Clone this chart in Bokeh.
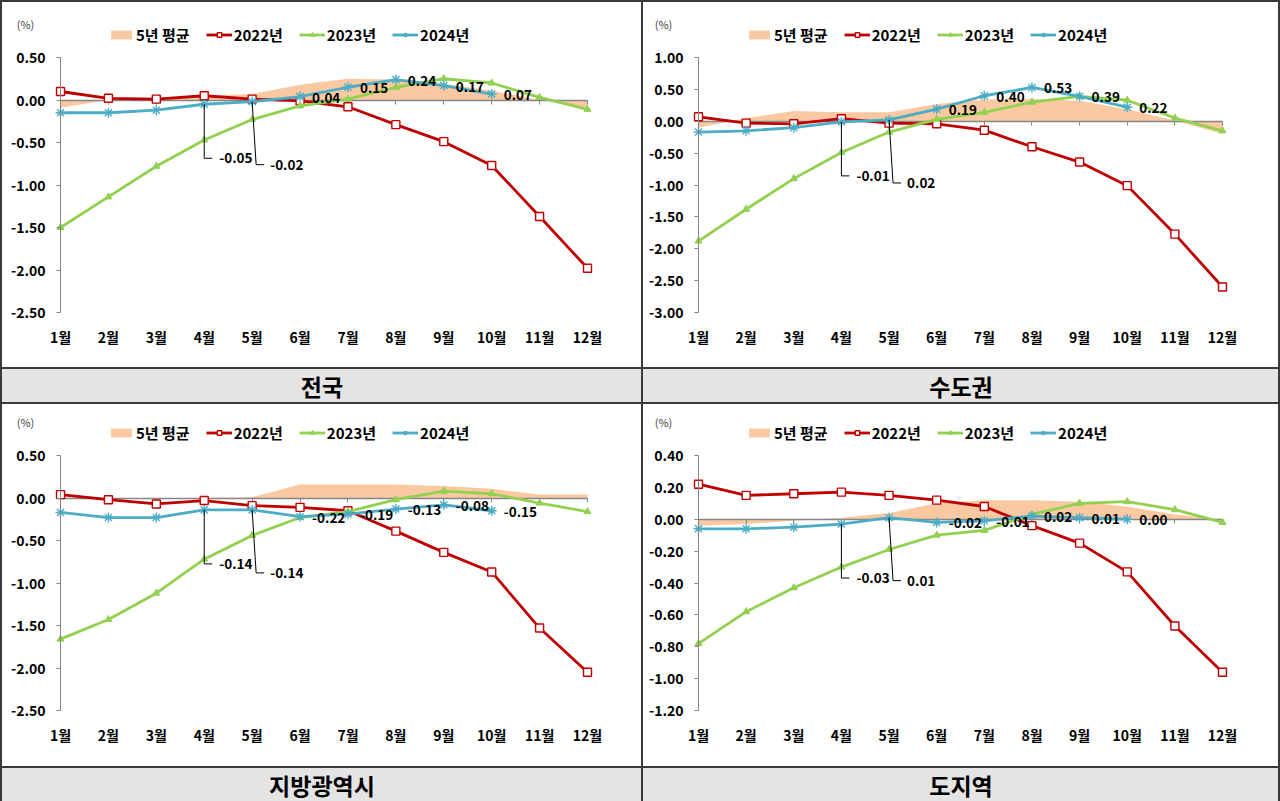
from bokeh.plotting import figure
from bokeh.models import (Range1d, LinearAxis, FixedTicker, NumeralTickFormatter,
                          Legend, LegendItem, Label)
from bokeh.layouts import row, column
from bokeh.core.properties import value
from bokeh.embed import file_html
from bokeh.resources import INLINE

FONT = "Noto Sans CJK KR"

# ---------------- data ----------------
months = ["1월", "2월", "3월", "4월", "5월", "6월", "7월", "8월", "9월", "10월", "11월", "12월"]
series_names = ["5년 평균", "2022년", "2023년", "2024년"]
region_titles = ["전국", "수도권", "지방광역시", "도지역"]

nat_avg = [-0.09, 0.00, 0.02, 0.05, 0.07, 0.18, 0.25, 0.24, 0.19, 0.11, 0.00, -0.09]
nat_2022 = [0.10, 0.02, 0.01, 0.05, 0.01, -0.01, -0.08, -0.29, -0.49, -0.77, -1.37, -1.98]
nat_2023 = [-1.50, -1.14, -0.78, -0.47, -0.23, -0.07, 0.01, 0.15, 0.25, 0.20, 0.03, -0.11]
nat_2024 = [-0.15, -0.15, -0.12, -0.05, -0.02, 0.04, 0.15, 0.24, 0.17, 0.07]
nat_ticks = [0.50, 0.00, -0.50, -1.00, -1.50, -2.00, -2.50]

cap_avg = [-0.10, 0.05, 0.16, 0.14, 0.14, 0.27, 0.34, 0.35, 0.32, 0.19, 0.01, -0.20]
cap_2022 = [0.07, -0.03, -0.04, 0.04, -0.03, -0.04, -0.14, -0.40, -0.64, -1.01, -1.77, -2.60]
cap_2023 = [-1.88, -1.38, -0.90, -0.49, -0.17, 0.03, 0.14, 0.30, 0.39, 0.33, 0.05, -0.15]
cap_2024 = [-0.17, -0.15, -0.10, -0.01, 0.02, 0.19, 0.40, 0.53, 0.39, 0.22]
cap_ticks = [1.00, 0.50, 0.00, -0.50, -1.00, -1.50, -2.00, -2.50, -3.00]

met_avg = [0.00, 0.00, 0.00, 0.00, 0.01, 0.16, 0.16, 0.16, 0.14, 0.11, 0.04, 0.04]
met_2022 = [0.04, -0.02, -0.07, -0.03, -0.09, -0.11, -0.15, -0.39, -0.64, -0.87, -1.53, -2.05]
met_2023 = [-1.66, -1.43, -1.12, -0.72, -0.44, -0.23, -0.16, -0.02, 0.08, 0.05, -0.06, -0.16]
met_2024 = [-0.17, -0.23, -0.23, -0.14, -0.14, -0.22, -0.19, -0.13, -0.08, -0.15]
met_ticks = [0.50, 0.00, -0.50, -1.00, -1.50, -2.00, -2.50]

prov_avg = [-0.04, -0.03, -0.01, 0.01, 0.04, 0.10, 0.12, 0.12, 0.11, 0.08, 0.03, 0.00]
prov_2022 = [0.22, 0.15, 0.16, 0.17, 0.15, 0.12, 0.08, -0.04, -0.15, -0.33, -0.67, -0.96]
prov_2023 = [-0.78, -0.58, -0.43, -0.30, -0.19, -0.10, -0.07, 0.03, 0.10, 0.11, 0.06, -0.02]
prov_2024 = [-0.06, -0.06, -0.05, -0.03, 0.01, -0.02, -0.01, 0.02, 0.01, 0.00]
prov_ticks = [0.40, 0.20, 0.00, -0.20, -0.40, -0.60, -0.80, -1.00, -1.20]

# ---------------- styles ----------------
PEACH = "#fbc9a1"
RED = "#c00000"
GREEN = "#92d050"
BLUE = "#4bacc6"
AXIS = "#868686"
BAND = "#e4e4e4"
BORDER = "#3a3a3a"
PAD_BOTTOM = 12


def make_chart(avg, y22, y23, y24, ticks, width, height, x1_px, x12_px, top_px, bottom_border):
    y_min, y_max = min(ticks), max(ticks)
    n = len(months)
    ppx = (x12_px - x1_px) / (n - 1)
    x_lo = 1 - x1_px / ppx
    x_hi = x_lo + width / ppx
    data_h = height - bottom_border - top_px
    ppy = data_h / (y_max - y_min)
    y_hi = y_max + top_px / ppy
    y_lo = y_min - PAD_BOTTOM / ppy
    fb = bottom_border - PAD_BOTTOM
    fh = height - fb

    p = figure(width=width, height=height,
               x_range=Range1d(x_lo, x_hi), y_range=Range1d(y_lo, y_hi),
               output_backend="svg", toolbar_location=None, tools="",
               x_axis_location=None, y_axis_location=None,
               min_border_left=0, min_border_right=0,
               min_border_top=0, min_border_bottom=fb,
               outline_line_color=None, background_fill_color="white",
               border_fill_color="white",
               styles={"background-color": "white"})
    p.grid.visible = False

    x = [i + 1 for i in range(n)]
    x24 = x[:len(y24)]

    r_avg = p.varea(x=x, y1=0, y2=avg, fill_color=PEACH, fill_alpha=1.0, level="image")

    r22l = p.line(x, y22, line_color=RED, line_width=2.8)
    r22m = p.scatter(x, y22, marker="square", size=8, fill_color="white",
                     line_color=RED, line_width=1.4)
    r23l = p.line(x, y23, line_color=GREEN, line_width=2.8)
    r23m = p.scatter(x, y23, marker="triangle", size=7, fill_color=GREEN,
                     line_color=GREEN)
    r24l = p.line(x24, y24, line_color=BLUE, line_width=2.8)
    r24m = p.scatter(x24, y24, marker="asterisk", size=10, line_color=BLUE,
                     line_width=1.4)

    # value axis, crossing at the first month
    ya = LinearAxis(fixed_location=1, bounds=(y_min, y_max),
                    ticker=FixedTicker(ticks=ticks),
                    formatter=NumeralTickFormatter(format="0.00"),
                    axis_line_color=AXIS, axis_line_width=1,
                    major_tick_line_color=AXIS, major_tick_out=4, major_tick_in=0,
                    minor_tick_out=0, minor_tick_in=0,
                    major_label_standoff=11,
                    major_label_text_font=FONT, major_label_text_font_style="bold",
                    major_label_text_font_size="14px", major_label_text_color="black")
    p.add_layout(ya, "left")

    # month labels at the bottom
    xa = LinearAxis(ticker=FixedTicker(ticks=x),
                    major_label_overrides={xi: m for xi, m in zip(x, months)},
                    axis_line_color=None, major_tick_line_color=None,
                    minor_tick_line_color=None, major_tick_out=0, major_tick_in=0,
                    minor_tick_out=0, minor_tick_in=0,
                    major_label_standoff=2,
                    major_label_text_font=FONT, major_label_text_font_style="bold",
                    major_label_text_font_size="14px", major_label_text_color="black")
    p.add_layout(xa, "below")

    # category axis line crossing at 0
    za = LinearAxis(fixed_location=0, bounds=(1, 12), ticker=FixedTicker(ticks=x),
                    major_label_overrides={xi: "" for xi in x},
                    axis_line_color=AXIS, axis_line_width=1.5,
                    major_tick_line_color=AXIS, major_tick_out=4, major_tick_in=0,
                    minor_tick_out=0, minor_tick_in=0, level="underlay")
    p.add_layout(za, "below")

    # data labels (2024), months 6..10 to the right of the point
    xr = x24[5:]
    yr = y24[5:]
    p.text(x=xr, y=yr, text=[f"{v:.2f}" for v in yr], x_offset=12, y_offset=1,
           text_align="left", text_baseline="middle", text_font=value(FONT),
           text_font_style="bold", text_font_size="13.5px", text_color="black")

    # callout labels for months 4 and 5
    x4, v4 = x24[3], y24[3]
    x5, v5 = x24[4], y24[4]
    d4, d5 = 54, 63
    xs = [[x4, x4, x4 + 8 / ppx],
          [x5, x5 + 4 / ppx, x5 + 12 / ppx]]
    ys = [[v4, v4 - d4 / ppy, v4 - d4 / ppy],
          [v5, v5 - d5 / ppy, v5 - d5 / ppy]]
    p.multi_line(xs=xs, ys=ys, line_color="black", line_width=1)
    p.text(x=[x4], y=[v4], text=[f"{v4:.2f}"], x_offset=15, y_offset=d4,
           text_align="left", text_baseline="middle", text_font=value(FONT),
           text_font_style="bold", text_font_size="13.5px", text_color="black")
    p.text(x=[x5], y=[v5], text=[f"{v5:.2f}"], x_offset=18, y_offset=d5,
           text_align="left", text_baseline="middle", text_font=value(FONT),
           text_font_style="bold", text_font_size="13.5px", text_color="black")

    # legend
    items = [LegendItem(label=series_names[0], renderers=[r_avg]),
             LegendItem(label=series_names[1], renderers=[r22l, r22m]),
             LegendItem(label=series_names[2], renderers=[r23l, r23m]),
             LegendItem(label=series_names[3], renderers=[r24l, r24m])]
    leg = Legend(items=items, orientation="horizontal",
                 location=(x1_px + 48, fh - (top_px - 12)),
                 label_text_font=FONT, label_text_font_style="bold",
                 label_text_font_size="15px", label_text_color="black",
                 glyph_width=26, glyph_height=11, label_height=14,
                 label_standoff=2, spacing=16, padding=0, margin=0,
                 border_line_color=None, background_fill_alpha=0)
    p.add_layout(leg)

    # "(%)" unit text
    p.add_layout(Label(x=1, y=y_max, x_offset=-35, y_offset=34, text="(%)",
                       text_font=FONT, text_font_size="11px", text_color="#404040",
                       text_align="center", text_baseline="middle"))
    return p


def make_band(title, width, height):
    b = figure(width=width, height=height, x_range=Range1d(0, 1), y_range=Range1d(0, 1),
               output_backend="svg", toolbar_location=None, tools="",
               x_axis_location=None, y_axis_location=None, min_border=0,
               outline_line_color=None, background_fill_color=BAND,
               border_fill_color=BAND, styles={"background-color": BAND})
    b.grid.visible = False
    b.text(x=[0.5], y=[0.5], text=[title], text_align="center", text_baseline="middle",
           text_font=value(FONT), text_font_style="bold", text_font_size="23px",
           text_color="black")
    return b


p1 = make_chart(nat_avg, nat_2022, nat_2023, nat_2024, nat_ticks, 639, 365, 58, 585, 55, 55)
p2 = make_chart(cap_avg, cap_2022, cap_2023, cap_2024, cap_ticks, 635, 365, 55, 579, 55, 55)
p3 = make_chart(met_avg, met_2022, met_2023, met_2024, met_ticks, 639, 362, 58, 585, 51, 56)
p4 = make_chart(prov_avg, prov_2022, prov_2023, prov_2024, prov_ticks, 635, 362, 55, 579, 51, 56)

b1 = make_band(region_titles[0], 639, 33)
b2 = make_band(region_titles[1], 635, 33)
b3 = make_band(region_titles[2], 639, 33)
b4 = make_band(region_titles[3], 635, 33)

layout = column(row(p1, p2, spacing=2), row(b1, b2, spacing=2),
                row(p3, p4, spacing=2), row(b3, b4, spacing=2),
                spacing=2,
                styles={"background-color": BORDER, "padding": "2px 2px 0px 2px"})

open("out.html", "w").write(file_html(layout, INLINE))
